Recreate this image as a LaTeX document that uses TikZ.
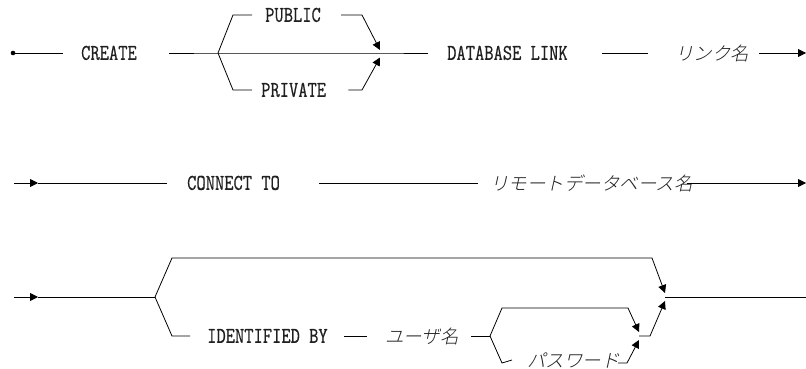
\documentclass[tikz,border=0pt]{standalone}
\usepackage{fontspec}
\usetikzlibrary{arrows.meta}
\newfontfamily\kwfont{Latin Modern Mono}[FakeStretch=0.8, FakeBold=0.6]
\newfontfamily\jpfont{Noto Sans CJK JP Light}[FakeSlant=0.22]
\tikzset{
  kw/.style={anchor=west, inner sep=0pt, text height=13.6pt, text depth=0pt,
    font=\kwfont\fontsize{22.5}{22.5}\selectfont, text=black!88},
  jp/.style={anchor=west, inner sep=0pt, text height=16.4pt, text depth=2.2pt,
    font=\jpfont\fontsize{18.5}{18.5}\selectfont, text=black!88},
  rail/.style={line width=0.8pt, line join=miter},
  tip/.style={rail, -{Triangle[length=8pt,width=8pt,fill=black]}},
}
\begin{document}
\begin{tikzpicture}[x=1pt, y=-1pt]
\useasboundingbox (0,0) rectangle (806,369);

% ---------------- first line: CREATE [PUBLIC|PRIVATE] DATABASE LINK name
\coordinate (r1s) at (13,53);
\fill (r1s) circle (2.3pt);
\node[kw] (create) at (81,53) {CREATE};
\node[kw] (public) at (265,15) {PUBLIC};
\node[kw] (private) at (261,90) {PRIVATE};
\node[kw] (dblink) at (447,53) {DATABASE LINK};
\node[jp] (linkname) at (675,53) {リンク名};
\coordinate (b1) at (218,53);
\coordinate (j1) at (380,53);
\coordinate (r1e) at (806,53);

\draw[rail] (r1s) -- ([xshift=-18pt]create.west);
\draw[rail] ([xshift=32pt]create.east) -- (b1) -- (j1) -- ([xshift=-19pt]dblink.west);
\draw[rail] (b1) -- (233,15) -- ([xshift=-13pt]public.west);
\draw[tip] ([xshift=20pt]public.east) -- (362,15) -- ([yshift=3pt]j1);
\draw[rail] (b1) -- (233,90) -- ([xshift=-9pt]private.west);
\draw[tip] ([xshift=22pt]private.east) -- (362,90) -- ([yshift=-4.5pt]j1);
\draw[rail] ([xshift=34pt]dblink.east) -- ([xshift=-27pt]linkname.west);
\draw[tip] ([xshift=10pt]linkname.east) -- (r1e);

% ---------------- second line: CONNECT TO remote database
\coordinate (r2s) at (14,183);
\coordinate (r2a) at (38,183);
\coordinate (r2e) at (806,183);
\node[kw] (connect) at (187,183) {CONNECT TO};
\node[jp] (remote) at (490,183) {リモートデータベース名};

\draw[tip] (r2s) -- (r2a);
\draw[rail] (r2a) -- ([xshift=-20pt]connect.west);
\draw[rail] ([xshift=39pt]connect.east) -- ([xshift=-12pt]remote.west);
\draw[tip] ([xshift=-6pt]remote.east) -- (r2e);

% ---------------- third line: [IDENTIFIED BY user [password]]
\coordinate (r3s) at (14,297);
\coordinate (r3a) at (38,297);
\coordinate (b3) at (155,297);
\coordinate (j3) at (665,297);
\coordinate (r3e) at (806,297);
\node[kw] (ident) at (207,336) {IDENTIFIED BY};
\node[jp] (user) at (385,336) {ユーザ名};
\node[jp] (pass) at (527,360) {パスワード};
\coordinate (b4) at (490,336);
\coordinate (j4) at (639,336);

\draw[tip] (r3s) -- (r3a);
\draw[rail] (r3a) -- (b3);
\draw[tip] (b3) -- (172,258) -- (652,258) -- ([yshift=4pt]j3);
\draw[rail] (b3) -- (172,336) -- ([xshift=-17pt]ident.west);
\draw[rail] ([xshift=16pt]ident.east) -- ([xshift=-18pt]user.west);
\draw[rail] ([xshift=12pt]user.east) -- (b4);
\draw[tip] (b4) -- (502,308) -- (628,308) -- ([yshift=4pt]j4);
\draw[rail] (b4) -- (502,363) -- ([xshift=-15pt]pass.west);
\draw[tip] ([xshift=-2pt]pass.east |- 0,363) -- (627,363) -- ([yshift=-4pt]j4);
\draw[tip] (j4) -- (650,336) -- ([yshift=-4pt]j3);
\draw[rail] (j3) -- (r3e);
\end{tikzpicture}
\end{document}
